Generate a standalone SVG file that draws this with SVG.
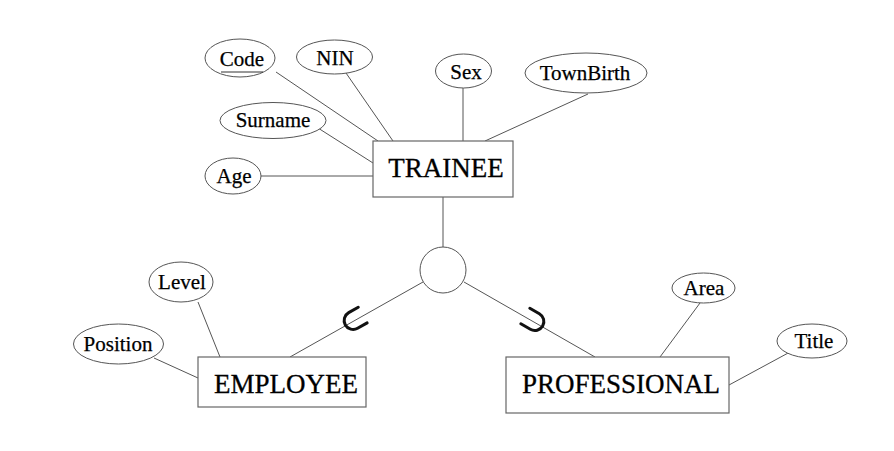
<svg xmlns="http://www.w3.org/2000/svg" width="894" height="451" viewBox="0 0 894 451">
<style>
.bg{fill:#ffffff}
.ent{fill:#ffffff;stroke:#666666;stroke-width:1.2}
.att{fill:#ffffff;stroke:#555555;stroke-width:1}
.lbl{font-family:"Liberation Serif","Times New Roman",serif;font-size:21px;fill:#000000;stroke:#000000;stroke-width:0.25;text-anchor:middle}
.big{font-family:"Liberation Serif","Times New Roman",serif;font-size:27px;fill:#000000;stroke:#000000;stroke-width:0.3;text-anchor:middle}
.ln{stroke:#555555;stroke-width:1;fill:none}
.sub{stroke:#111111;stroke-width:3;fill:none;stroke-linecap:round}
</style>
<defs>
<path id="subset" d="M 10 -9 L -1 -9 A 9 9 0 0 0 -1 9 L 10 9"/>
</defs>
<rect class="bg" x="0" y="0" width="894" height="451"/>
<g id="connectors">
<line class="ln" x1="276" y1="72" x2="378" y2="141"/>
<line class="ln" x1="346" y1="73" x2="393" y2="141"/>
<line class="ln" x1="463" y1="88" x2="463" y2="141"/>
<line class="ln" x1="588" y1="94" x2="485" y2="141"/>
<line class="ln" x1="318" y1="128" x2="373" y2="163"/>
<line class="ln" x1="261" y1="176" x2="373" y2="176"/>
<line class="ln" x1="443" y1="197" x2="443" y2="247"/>
<line class="ln" x1="423" y1="282" x2="290" y2="357"/>
<line class="ln" x1="464" y1="282" x2="595" y2="357"/>
<line class="ln" x1="198" y1="302" x2="220" y2="357"/>
<line class="ln" x1="154" y1="358" x2="198" y2="378"/>
<line class="ln" x1="700" y1="303" x2="660" y2="357"/>
<line class="ln" x1="790" y1="352" x2="729" y2="385"/>
<use href="#subset" class="sub" transform="translate(354,320) rotate(-29.6)"/>
<use href="#subset" class="sub" transform="translate(534,321) rotate(-150)"/>
</g>
<g id="trainee">
<rect class="ent" x="373" y="141" width="140" height="56"/>
<text class="big" x="446" y="177">TRAINEE</text>
</g>
<g id="isa">
<circle class="att" cx="443" cy="270" r="23"/>
</g>
<g id="employee">
<rect class="ent" x="198" y="357" width="168" height="50"/>
<text class="big" x="286" y="393">EMPLOYEE</text>
</g>
<g id="professional">
<rect class="ent" x="506" y="357" width="223" height="56"/>
<text class="big" x="621" y="393">PROFESSIONAL</text>
</g>
<g id="attr-code">
<ellipse class="att" cx="240" cy="58" rx="35" ry="19"/>
<text class="lbl" x="242" y="65.5">Code</text>
<line x1="221" y1="72" x2="263" y2="72" stroke="#333333" stroke-width="1"/>
</g>
<g id="attr-nin">
<ellipse class="att" cx="334.5" cy="57" rx="38" ry="17"/>
<text class="lbl" x="335" y="65">NIN</text>
</g>
<g id="attr-sex">
<ellipse class="att" cx="463.5" cy="71" rx="28" ry="17"/>
<text class="lbl" x="466" y="79">Sex</text>
</g>
<g id="attr-townbirth">
<ellipse class="att" cx="586" cy="73" rx="61" ry="20"/>
<text class="lbl" x="585" y="80">TownBirth</text>
</g>
<g id="attr-surname">
<ellipse class="att" cx="273" cy="120.5" rx="53" ry="18"/>
<text class="lbl" x="273" y="126.5">Surname</text>
</g>
<g id="attr-age">
<ellipse class="att" cx="233" cy="176" rx="28" ry="18"/>
<text class="lbl" x="234" y="183">Age</text>
</g>
<g id="attr-level">
<ellipse class="att" cx="181" cy="282" rx="32" ry="20"/>
<text class="lbl" x="182" y="288.5">Level</text>
</g>
<g id="attr-position">
<ellipse class="att" cx="118.5" cy="344" rx="45" ry="20"/>
<text class="lbl" x="118" y="350.5">Position</text>
</g>
<g id="attr-area">
<ellipse class="att" cx="703.5" cy="288" rx="31.5" ry="15"/>
<text class="lbl" x="704" y="295">Area</text>
</g>
<g id="attr-title">
<ellipse class="att" cx="812" cy="341" rx="35" ry="17"/>
<text class="lbl" x="814" y="348">Title</text>
</g>
</svg>
